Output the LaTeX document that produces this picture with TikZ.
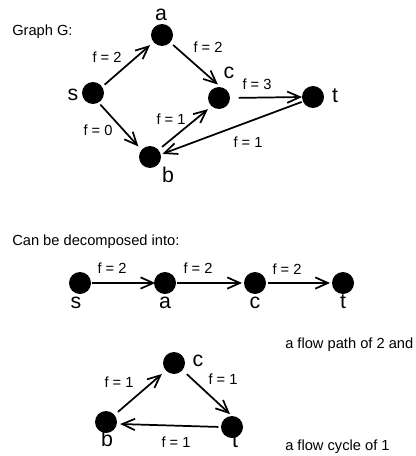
\documentclass[tikz,border=0pt]{standalone}
\usepackage{fontspec}
\setmainfont{Liberation Sans}
\usetikzlibrary{arrows.meta}
\begin{document}
\begin{tikzpicture}[x=0.75pt,y=-0.75pt,
  vtx/.style={circle,fill=black,minimum size=16.5pt,inner sep=0pt,outer sep=0pt},
  vlab/.style={font=\fontsize{16}{16}\selectfont,anchor=base,inner sep=0pt},
  flab/.style={font=\fontsize{11}{13}\selectfont,inner sep=0pt},
  txt/.style={font=\fontsize{11}{13}\selectfont,anchor=base west,inner sep=0pt},
  farrow/.style={line width=1.3pt,-{Straight Barb[length=9.5pt,width=8.5pt]}}]
\useasboundingbox (0,0) rectangle (416,456);

% ---------- Graph G ----------
\node[txt] (title) at (12,35.5) {Graph G:};
\node[vtx] (s) at (93,93) {};
\node[vtx] (a) at (162,35) {};
\node[vtx] (c) at (219,98) {};
\node[vtx] (t) at (313,97) {};
\node[vtx] (b) at (150,157) {};
\node[vlab] (ls) at (73,101) {s};
\node[vlab] (la) at (161,21) {a};
\node[vlab] (lc) at (229,79) {c};
\node[vlab] (lt) at (335,103) {t};
\node[vlab] (lb) at (168,182) {b};

\draw[farrow,shorten <=2.5pt,shorten >=3.5pt] (s.34) -- (a.-140);
\draw[farrow,shorten <=3pt,shorten >=3pt] (a.-42) -- (c.80);
\draw[farrow,shorten <=6.5pt,shorten >=0pt] (c.0) -- (t.180);
\draw[farrow,shorten <=2pt,shorten >=3.5pt] (s.-60) -- (b.140);
\draw[farrow,shorten <=3.5pt,shorten >=3.5pt] (b.40) -- (c.-132);
\draw[farrow,shorten <=1pt,shorten >=1.5pt] (t.-156) -- (b.13);

\node[flab] (f1) at (107,57) {f = 2};
\node[flab] (f2) at (208,47) {f = 2};
\node[flab] (f3) at (257,84) {f = 3};
\node[flab] (f4) at (98,130) {f = 0};
\node[flab] (f5) at (171,119) {f = 1};
\node[flab] (f6) at (248,142) {f = 1};

% ---------- Path ----------
\node[txt] (title2) at (12,245) {Can be decomposed into:};
\node[vtx] (ps) at (80,283) {};
\node[vtx] (pa) at (165,283) {};
\node[vtx] (pc) at (255,283) {};
\node[vtx] (pt) at (343,283) {};
\node[vlab] (lps) at (76,308) {s};
\node[vlab] (lpa) at (165,308) {a};
\node[vlab] (lpc) at (255,308) {c};
\node[vlab] (lpt) at (343,308) {t};
\draw[farrow,shorten <=0.5pt,shorten >=-1pt] (ps.0) -- (pa.180);
\draw[farrow,shorten <=0.5pt,shorten >=1.5pt] (pa.0) -- (pc.180);
\draw[farrow,shorten <=1.5pt,shorten >=1.5pt] (pc.0) -- (pt.180);
\node[flab] (g1) at (112,268) {f = 2};
\node[flab] (g2) at (198,268) {f = 2};
\node[flab] (g3) at (287,269) {f = 2};
\node[txt] (path) at (285,348) {a flow path of 2 and};

% ---------- Cycle ----------
\node[vtx] (cc) at (174,363) {};
\node[vtx] (cb) at (106,422) {};
\node[vtx] (ct) at (232,427) {};
\node[vlab] (lcc) at (198,366) {c};
\node[vlab] (lcb) at (107,446) {b};
\node[vlab] (lct) at (235,447) {t};
\draw[farrow,shorten <=3.5pt,shorten >=4pt] (cb.40) -- (cc.-137);
\draw[farrow,shorten <=4.5pt,shorten >=2pt] (cc.-40) -- (ct.90);
\draw[farrow,shorten <=2pt,shorten >=2.5pt] (ct.180) -- (cb.-10);
\node[flab] (h1) at (119,382) {f = 1};
\node[flab] (h2) at (223,379) {f = 1};
\node[flab] (h3) at (176,442) {f = 1};
\node[txt] (cyc) at (285,450) {a flow cycle of 1};
\end{tikzpicture}
\end{document}
